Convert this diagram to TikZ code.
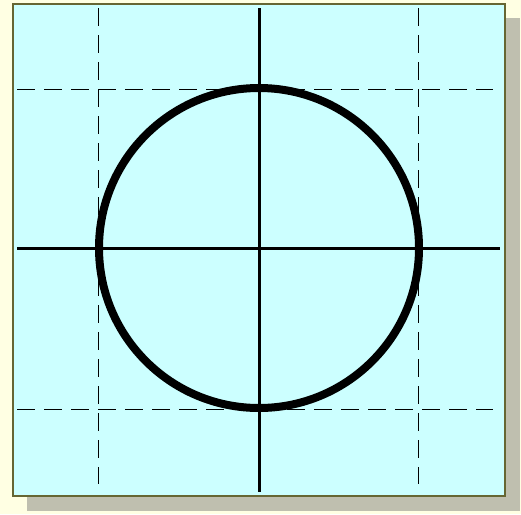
\documentclass[tikz,border=0pt]{standalone}
\usepackage{tikz}
\definecolor{paper}{HTML}{FFFFE3}
\definecolor{panel}{HTML}{CCFFFF}
\definecolor{rim}{HTML}{666633}
\definecolor{dropgray}{HTML}{BFBFAF}
\begin{document}
\begin{tikzpicture}[x=1pt, y=-1pt, grid/.style={dash pattern=on 18pt off 9pt, line width=0.9pt}]
	\fill[paper] (0,0) rectangle (521,514);
	\fill[dropgray] (27,18) rectangle (520,511);
	\draw[rim, fill=panel, line width=1.5pt] (13,4) rectangle (505,496);
	\coordinate (o) at (259,248);
	\foreach \x in {98,418} {\draw[grid] (\x,8) -- (\x,484);}
	\foreach \y in {89,409} {\draw[grid] (17,\y) -- (493,\y);}
	\draw[line width=3pt] (17,248) -- (500,248);
	\draw[line width=3pt] (259,8) -- (259,492);
	\draw[line width=8pt] (o) circle[radius=160];
	\useasboundingbox (0,0) rectangle (521,514);
\end{tikzpicture}
\end{document}
